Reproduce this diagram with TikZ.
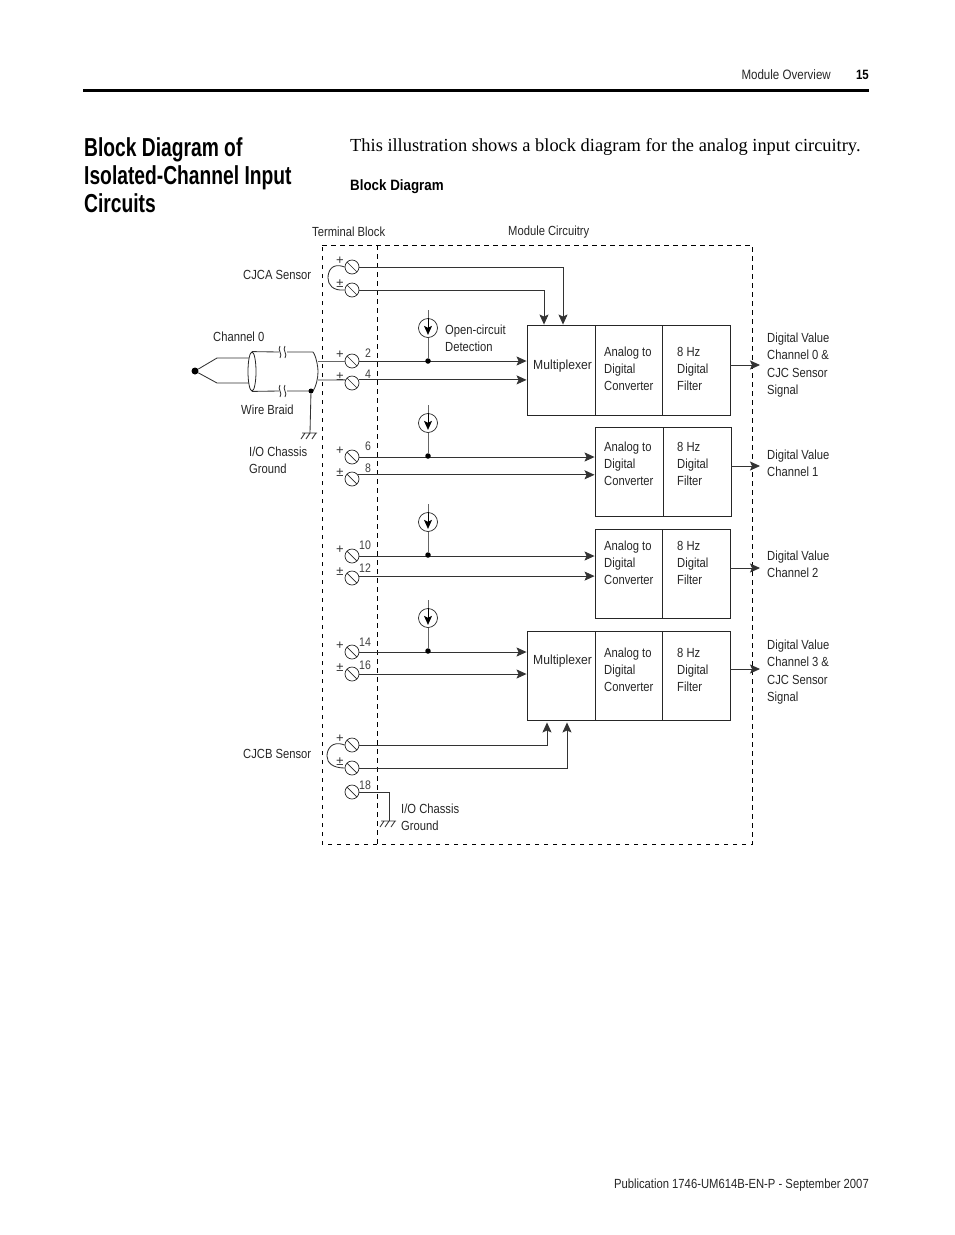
\documentclass[tikz,border=0pt]{standalone}
\usepackage{fontspec}
\setmainfont{Liberation Sans}
\newfontfamily\condf[FakeStretch=0.85]{Liberation Sans}
\newfontfamily\muxf[FakeStretch=0.92]{Liberation Sans}
\newfontfamily\titlef[FakeStretch=0.74]{Liberation Sans}
\newfontfamily\headf[FakeStretch=0.89]{Liberation Sans}
\newfontfamily\bodyf{Liberation Serif}
\usetikzlibrary{arrows.meta,shapes.geometric}
\tikzset{
  x=1pt,y=-1pt,
  wire/.style={line width=0.85pt,draw=black!80},
  awire/.style={wire,-{Stealth[length=10pt,width=9pt,inset=2pt]}},
  dbox/.style={dash pattern=on 4.5pt off 4.5pt,line width=0.7pt,draw=black},
  screw/.style={circle,draw=black!85,line width=0.7pt,minimum size=14pt,inner sep=0pt,
    path picture={\draw[line width=0.7pt,draw=black!85,shift={(path picture bounding box.center)}] (-5,-5) -- (5,5);}},
  blk/.style={draw=black!85,line width=0.9pt,inner sep=0pt},
  lab/.style={anchor=west,inner sep=0pt,align=left,font=\lbl},
  dot/.style={circle,fill=black,inner sep=0pt,minimum size=5pt},
  src/.style={circle,draw=black!85,line width=0.7pt,minimum size=19pt,inner sep=0pt},
}
\newcommand{\lbl}{\condf\fontsize{13.2}{17.2}\selectfont\color{black!85}}
\newcommand{\smalllbl}{\condf\fontsize{12.4}{13}\selectfont\color{black!75}}
\newcommand{\signlbl}{\fontsize{13}{13}\selectfont\color{black!80}}
\newcommand{\mkblk}[5]{\node[blk,minimum width=#4pt,minimum height=#5pt] (#1) at (#2,#3) {};}
\newcommand{\adc}[3]{\node[lab] (#1) at (604,#3) {Analog to\\Digital\\Converter};\node[lab] (#1f) at (#2,#3) {8 Hz\\Digital\\Filter};}
\newcommand{\mkscrew}[3]{\node[screw] (#1) at (352,#2) {};\node[inner sep=0pt,font=\signlbl] (#1l) at (340,#2-6) {#3};}
\newcommand{\num}[3]{\node[inner sep=0pt,font=\smalllbl] (#1) at (#3,#2) {#1};}
\newcommand{\gnd}[2]{% name, coordinate (top of bars)
  \coordinate (#1) at #2;
  \draw[wire] ([xshift=-8pt]#1) -- ([xshift=7pt]#1)
    ([xshift=-5pt]#1) -- ([xshift=-9pt,yshift=-6pt]#1)
    ([xshift=0pt]#1) -- ([xshift=-4pt,yshift=-6pt]#1)
    ([xshift=6pt]#1) -- ([xshift=2pt,yshift=-6pt]#1);}
\newcommand{\csrc}[3]{% name, y centre, y junction
  \node[src] (#1) at (428,#2) {};
  \node[dot,minimum size=5.5pt] (#1j) at (428,#3) {};
  \coordinate (#1t) at (428,#2-18);
  \draw[wire,draw=black!60] (#1t) -- (#1.north);
  \draw[wire,draw=black!60] (#1.south) -- (#1j);
  \draw[-{Stealth[length=9pt,width=8pt,inset=2pt]},line width=0.8pt] (#1.north) -- ([yshift=3pt]#1.south);}
\begin{document}
\begin{tikzpicture}
\useasboundingbox (0,0) rectangle (954,1235);
% page header
\coordinate (hl) at (83,90.5); \coordinate (hr) at (869,90.5);
\draw[line width=3pt] (hl) -- (hr);
\node[anchor=east,inner sep=0pt,font=\condf\fontsize{13.6}{16}\selectfont\color{black!85}] (h1) at (831,74.5) {Module Overview};
\node[anchor=east,inner sep=0pt,font=\condf\bfseries\fontsize{13.5}{15}\selectfont] (h2) at (869,74.5) {15};
\node[anchor=north west,inner sep=0pt,align=left,font=\titlef\bfseries\fontsize{26}{28}\selectfont] (title) at (84,137) {Block Diagram of\\Isolated-Channel Input\\Circuits};
\node[anchor=west,inner sep=0pt,font=\bodyf\fontsize{18.4}{20}\selectfont] (intro) at (350,147) {This illustration shows a block diagram for the analog input circuitry.};
\node[anchor=west,inner sep=0pt,font=\headf\bfseries\fontsize{15}{17}\selectfont] (bd) at (350,186.5) {Block Diagram};
\node[anchor=east,inner sep=0pt,font=\condf\fontsize{13.25}{16}\selectfont\color{black!85}] (pub) at (869,1185) {Publication 1746-UM614B-EN-P - September 2007};
% dashed frames
\coordinate (d1) at (322,245); \coordinate (d2) at (752,245); \coordinate (d3) at (752,844); \coordinate (d4) at (322,844);
\coordinate (d5) at (377,245); \coordinate (d6) at (377,844);
\draw[dbox] (d1) -- (d2) -- (d3) -- (d4) -- cycle;
\draw[dbox] (d5) -- (d6);
\node[lab] (tb) at (312,232) {Terminal Block};
\node[lab] (mc) at (508,232) {Module Circuitry};
% blocks
\mkblk{m0}{561}{370}{68}{90}
\mkblk{a0}{628.5}{370}{67}{90}
\mkblk{f0}{696}{370}{68}{90}
\mkblk{a1}{629}{471.5}{68}{89}
\mkblk{f1}{697}{471.5}{68}{89}
\mkblk{a2}{628.5}{573.5}{67}{89}
\mkblk{f2}{696}{573.5}{68}{89}
\mkblk{m3}{561}{675.5}{68}{89}
\mkblk{a3}{628.5}{675.5}{67}{89}
\mkblk{f3}{696}{675.5}{68}{89}
\node[lab,font=\muxf\fontsize{13.2}{17}\selectfont\color{black!85}] (mt0) at (533,366.5) {Multiplexer};
\node[lab,font=\muxf\fontsize{13.2}{17}\selectfont\color{black!85}] (mt3) at (533,661.5) {Multiplexer};
\adc{ta0}{677}{369}
\adc{ta1}{677}{464}
\adc{ta2}{677}{563}
\adc{ta3}{677}{670}
% screws
\mkscrew{sa}{267}{+}
\mkscrew{sb}{290}{±}
\mkscrew{s2}{361}{+}
\mkscrew{s4}{383}{±}
\mkscrew{s6}{457}{+}
\mkscrew{s8}{479}{±}
\mkscrew{s10}{556}{+}
\mkscrew{s12}{578}{±}
\mkscrew{s14}{652}{+}
\mkscrew{s16}{674}{±}
\mkscrew{sc}{745}{+}
\mkscrew{sd}{768}{±}
\node[screw] (s18) at (352,792) {};
\num{2}{353}{368}\num{4}{374}{368}\num{6}{446}{368}\num{8}{468}{368}
\num{10}{545}{365}\num{12}{568}{365}\num{14}{642}{365}\num{16}{665}{365}\num{18}{785}{365}
% loops
\draw[wire] (sa.west) .. controls (331,262) and (328,272) .. (328,278) .. controls (328,285) and (333,291) .. (sb.west);
\draw[wire] (sc.west) .. controls (331,740) and (327,750) .. (327,756) .. controls (327,763) and (333,768) .. (sd.west);
% CJC wires
\coordinate (ma) at (563,267); \coordinate (mb) at (544,290);
\draw[awire] (sa.east) -- (ma) -- (ma |- m0.north);
\draw[awire] (sb.east) -- (mb) -- (mb |- m0.north);
\coordinate (mc1) at (547,745); \coordinate (md1) at (567,768);
\draw[awire] (sc.east) -- (mc1) -- ([yshift=-2pt]mc1 |- m3.south);
\draw[awire] (sd.east) -- (md1) -- ([yshift=-2pt]md1 |- m3.south);
% channel wires
\draw[awire] (s2.east) -- (s2.east -| m0.west);
\draw[awire] (s4.25) -- (s4.25 -| m0.west);
\draw[awire] (s6.east) -- (s6.east -| a1.west);
\draw[awire] (s8.35) -- (s8.35 -| a1.west);
\draw[awire] (s10.east) -- (s10.east -| a2.west);
\draw[awire] (s12.15) -- (s12.15 -| a2.west);
\draw[awire] (s14.east) -- (s14.east -| m3.west);
\draw[awire] (s16.east) -- (s16.east -| m3.west);
% current sources
\csrc{c0}{328}{361}
\csrc{c1}{423}{456}
\csrc{c2}{522}{555}
\csrc{c3}{618}{651}
\node[lab] (oc) at (445,338) {Open-circuit\\Detection};
% outputs
\coordinate (o0) at (760,365); \coordinate (o1) at (760,466); \coordinate (o2) at (760,568); \coordinate (o3) at (760,669);
\draw[awire] (o0 -| f0.east) -- (o0);
\draw[awire] (o1 -| f1.east) -- (o1);
\draw[awire] (o2 -| f2.east) -- (o2);
\draw[awire] (o3 -| f3.east) -- (o3);
\node[lab] (t0) at (767,365) {Digital Value\\Channel 0 \&\\CJC Sensor\\Signal};
\node[lab] (t1) at (767,463) {Digital Value\\Channel 1};
\node[lab] (t2) at (767,564.5) {Digital Value\\Channel 2};
\node[lab] (t3) at (767,672) {Digital Value\\Channel 3 \&\\CJC Sensor\\Signal};
% left labels
\node[lab] (l1) at (243,275) {CJCA Sensor};
\node[lab] (l2) at (213,337) {Channel 0};
\node[lab] (l3) at (241,410) {Wire Braid};
\node[lab] (l4) at (249,460) {I/O Chassis\\Ground};
\node[lab] (l5) at (243,754) {CJCB Sensor};
\node[lab] (l6) at (401,817.5) {I/O Chassis\\Ground};
% thermocouple and cable
\node[dot,minimum size=7pt] (tc) at (195,371) {};
\coordinate (tu) at (217,358); \coordinate (tl) at (217,383);
\coordinate (tu2) at (249,358); \coordinate (tl2) at (249,383);
\draw[wire] (tc) -- (tu) -- (tu2);
\draw[wire] (tc) -- (tl) -- (tl2);
\node[draw=black!85,line width=0.8pt,ellipse,minimum width=8pt,minimum height=39pt,inner sep=0pt] (cyl) at (252,371.5) {};
\coordinate (ct1) at (313,352); \coordinate (ct2) at (313,391);
\draw[wire] (cyl.north) -- (279,352) (287,352) -- (ct1);
\draw[wire] (cyl.south) -- (279,391) (287,391) -- (ct2);
\draw[wire] (280,346) .. controls (277,350) and (283,354) .. (280,358) (285,346) .. controls (282,350) and (288,354) .. (285,358);
\draw[wire] (280,385) .. controls (277,389) and (283,393) .. (280,397) (285,385) .. controls (282,389) and (288,393) .. (285,397);
\draw[wire] (ct1) .. controls (316,356) and (318,366) .. (318,372) .. controls (318,378) and (316,387) .. (ct2);
\draw[wire,draw=black!60] (318,361) -- (s2.west);
\draw[wire] (318,380) -- (s4.155);
\node[dot,minimum size=5pt] (br) at (311,391) {};
\gnd{g1}{(310,433)}
\draw[wire] (br) -- (g1);
% ground 18
\gnd{g2}{(389,821)}
\coordinate (g2c) at (389,792);
\draw[wire] (s18.east) -- (g2c) -- (g2);
\end{tikzpicture}
\end{document}
